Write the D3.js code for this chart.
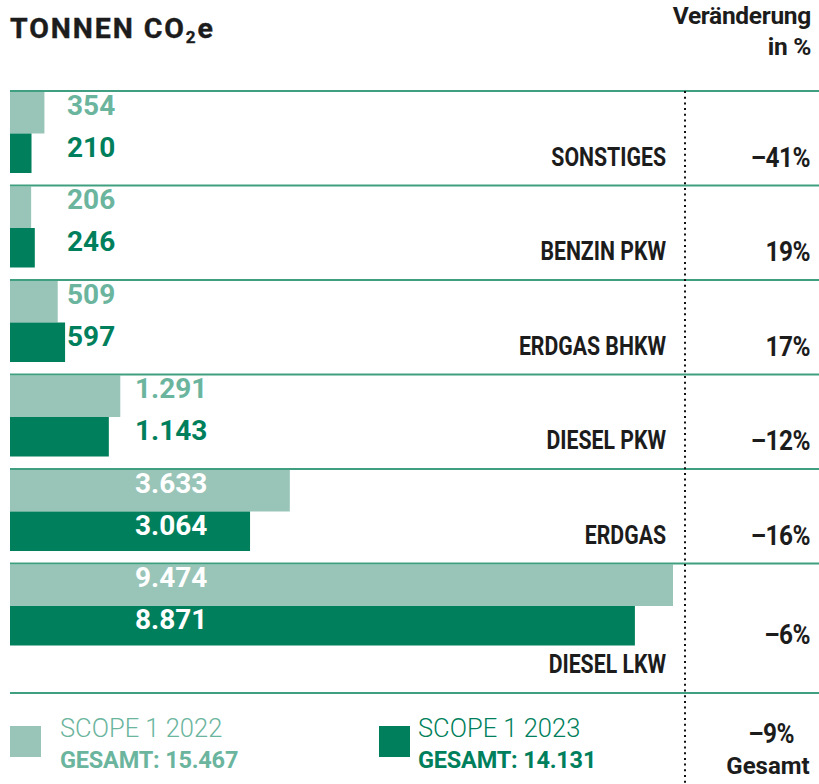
<!DOCTYPE html>
<html><head><meta charset="utf-8">
<script src="https://cdn.jsdelivr.net/npm/d3@7"></script>
<style>
html,body{margin:0;padding:0;background:#fff;}
svg{display:block;}
</style></head>
<body>
<svg id="chart" width="819" height="784"></svg>
<script>
// ---- data ----
const categories = ["SONSTIGES", "BENZIN PKW", "ERDGAS BHKW", "DIESEL PKW", "ERDGAS", "DIESEL LKW"];
const values2022 = [354, 206, 509, 1291, 3633, 9474];
const values2023 = [210, 246, 597, 1143, 3064, 8871];
const changeLabels = ["–41%", "19%", "17%", "–12%", "–16%", "–6%"];
const seriesNames = ["SCOPE 1 2022", "SCOPE 1 2023"];
const totals = [15467, 14131];
const totalChange = "–9%";

// ---- style ----
const cLight = "#99c5b8", cDark = "#007f5c";
const cLightText = "#6bb59e", cDarkText = "#007f5c";
const cLine = "#3f9f80", cText = "#1c1c1c";
const fNum = "Roboto, 'Open Sans', sans-serif";

const de = d3.formatLocale({decimal: ",", thousands: ".", grouping: [3], currency: ["", " €"]});
const fmt = de.format(",d");

const svg = d3.select("#chart");

const x0 = 10, rowTop = 91, rowH = 94.5, lastRowH = 129.5;
const lightH = 41.5, darkH = 39.5;
const x = d3.scalePow().exponent(0.9)
  .domain([0, d3.max(values2022.concat(values2023))])
  .range([0, 663]);

const rows = categories.map((c, i) => ({
  cat: c, v22: values2022[i], v23: values2023[i], chg: changeLabels[i],
  y0: rowTop + i * rowH,
  h: i === categories.length - 1 ? lastRowH : rowH
}));
const bottomY = rows[rows.length - 1].y0 + lastRowH;

// header
const title = svg.append("text").attr("x", 10).attr("y", 38)
  .attr("font-family", fNum).attr("font-weight", 700).attr("font-size", 28.5)
  .attr("letter-spacing", 1.9).attr("fill", cText)
  .attr("stroke", cText).attr("stroke-width", 0.4);
title.append("tspan").text("TONNEN CO");
title.append("tspan").text("2").attr("font-size", 17).attr("dy", 5);
title.append("tspan").text("e").attr("dy", -5);

svg.append("text").attr("x", 811).attr("y", 24).attr("text-anchor", "end")
  .attr("font-family", fNum).attr("font-weight", 700).attr("font-size", 24.5)
  .attr("fill", cText).attr("letter-spacing", -0.3).text("Veränderung");
svg.append("text").attr("x", 811).attr("y", 55).attr("text-anchor", "end")
  .attr("font-family", fNum).attr("font-weight", 700).attr("font-size", 24.5)
  .attr("fill", cText).attr("letter-spacing", -0.3).text("in %");

const g = svg.selectAll("g.row").data(rows).join("g").attr("class", "row");

// bars
g.append("rect").attr("x", x0).attr("y", d => d.y0 + 1)
  .attr("width", d => x(d.v22)).attr("height", lightH).attr("fill", cLight);
g.append("rect").attr("x", x0).attr("y", d => d.y0 + 1 + lightH)
  .attr("width", d => x(d.v23)).attr("height", darkH).attr("fill", cDark);

// separator lines
g.append("line").attr("x1", x0).attr("x2", 819)
  .attr("y1", d => d.y0).attr("y2", d => d.y0)
  .attr("stroke", cLine).attr("stroke-width", 2);
svg.append("line").attr("x1", x0).attr("x2", 819)
  .attr("y1", bottomY).attr("y2", bottomY)
  .attr("stroke", cLine).attr("stroke-width", 2.2);

// value labels
const labelX = d => (Math.max(d.v22, d.v23) < 1000 ? 67 : 135);
g.append("text").attr("x", labelX).attr("y", d => d.y0 + 23.5)
  .attr("font-family", fNum).attr("font-weight", 700).attr("font-size", 28)
  .attr("fill", d => (x0 + x(d.v22) > labelX(d) ? "#fff" : cLightText))
  .text(d => fmt(d.v22));
g.append("text").attr("x", labelX).attr("y", d => d.y0 + 65.5)
  .attr("font-family", fNum).attr("font-weight", 700).attr("font-size", 28)
  .attr("fill", d => (x0 + x(d.v23) > labelX(d) ? "#fff" : cDarkText))
  .text(d => fmt(d.v23));

// category labels (condensed)
g.append("text")
  .attr("transform", d => `translate(666,${d.y0 + d.h - 20}) scale(0.85,1)`)
  .attr("text-anchor", "end")
  .attr("font-family", fNum).attr("font-weight", 700).attr("font-size", 25)
  .attr("fill", cText).text(d => d.cat);

// change labels (condensed)
g.append("text")
  .attr("transform", d => `translate(810,${d.y0 + Math.min(d.h - 19, 80)}) scale(0.87,1)`)
  .attr("text-anchor", "end")
  .attr("font-family", fNum).attr("font-weight", 700).attr("font-size", 28)
  .attr("letter-spacing", -0.6)
  .attr("fill", cText).text(d => d.chg);

// dotted divider
svg.append("line").attr("x1", 685).attr("x2", 685).attr("y1", rowTop).attr("y2", 784)
  .attr("stroke", "#111").attr("stroke-width", 2).attr("stroke-dasharray", "2,3.7");

// legend
const legend = [
  {name: seriesNames[0], total: totals[0], fill: cLight, text: cLightText, x: 10, tx: 60},
  {name: seriesNames[1], total: totals[1], fill: cDark, text: cDarkText, x: 379, tx: 418}
];
const lg = svg.selectAll("g.legend").data(legend).join("g").attr("class", "legend");
lg.append("rect").attr("x", d => d.x).attr("y", 726).attr("width", 31).attr("height", 31).attr("fill", d => d.fill);
lg.append("text").attr("x", d => d.tx).attr("y", 737)
  .attr("font-family", fNum).attr("font-weight", 300).attr("font-size", 25.5)
  .attr("fill", d => d.text).text(d => d.name);
lg.append("text").attr("x", d => d.tx).attr("y", 768)
  .attr("font-family", fNum).attr("font-weight", 700).attr("font-size", 23.5)
  .attr("fill", d => d.text).attr("letter-spacing", -0.2).text(d => "GESAMT: " + fmt(d.total));

svg.append("text").attr("transform", "translate(771,743) scale(0.87,1)")
  .attr("text-anchor", "middle")
  .attr("font-family", fNum).attr("font-weight", 700).attr("font-size", 28)
  .attr("letter-spacing", -0.6)
  .attr("fill", cText).text(totalChange);
svg.append("text").attr("x", 768).attr("y", 774).attr("text-anchor", "middle")
  .attr("font-family", fNum).attr("font-weight", 700).attr("font-size", 24)
  .attr("fill", cText).text("Gesamt");
</script>
</body></html>
